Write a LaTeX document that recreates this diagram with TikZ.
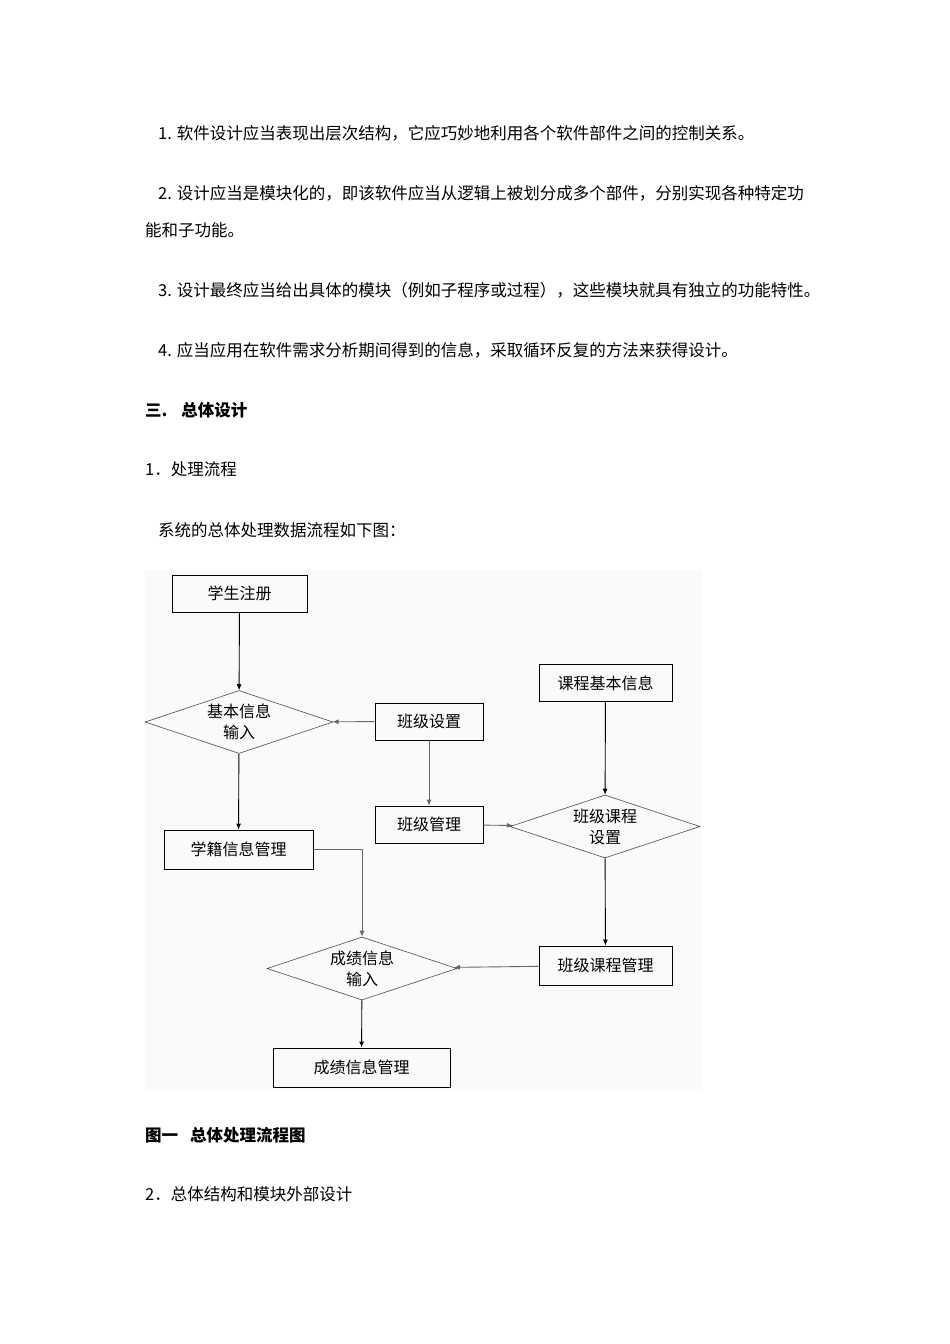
\documentclass[tikz,border=0pt]{standalone}
\usepackage{fontspec}
\setmainfont{Noto Sans CJK SC}
\usetikzlibrary{shapes.geometric,arrows.meta}
\begin{document}
\begin{tikzpicture}[x=1pt,y=-1pt,
  txt/.style={anchor=west,inner sep=0,font=\fontsize{16.5}{19}\selectfont},
  bold/.style={txt,font=\fontsize{16.5}{19}\selectfont\bfseries},
  box/.style={draw,line width=0.9pt,minimum height=37pt,inner sep=0,font=\fontsize{16}{19}\selectfont},
  dia/.style={draw=black!70,line width=0.6pt,diamond,aspect=3,inner sep=0,align=center,font=\fontsize{16}{21}\selectfont},
  arr/.style={-{Latex[length=6pt,width=5pt]},line width=0.9pt},
  garr/.style={arr,draw=black!60}]
\useasboundingbox (0,0) rectangle (950,1344);
\fill[white] (0,0) rectangle (950,1344);
\fill[black!2] (145,570) rectangle (702,1090);
\node[txt] (t1) at (158,133) {1. 软件设计应当表现出层次结构，它应巧妙地利用各个软件部件之间的控制关系。};
\node[txt] (t2) at (158,193) {2. 设计应当是模块化的，即该软件应当从逻辑上被划分成多个部件，分别实现各种特定功};
\node[txt] (t2b) at (145,230) {能和子功能。};
\node[txt] (t3) at (158,290) {3. 设计最终应当给出具体的模块（例如子程序或过程），这些模块就具有独立的功能特性。};
\node[txt] (t4) at (158,350) {4. 应当应用在软件需求分析期间得到的信息，采取循环反复的方法来获得设计。};
\node[bold] (h3) at (145,410) {三.\hspace{14pt}总体设计};
\node[txt] (h31) at (145,469) {1．处理流程};
\node[txt] (p) at (158,530) {系统的总体处理数据流程如下图：};
\node[bold] (cap) at (145,1135) {图一\hspace{12pt}总体处理流程图};
\node[txt] (h32) at (145,1194) {2．总体结构和模块外部设计};

\node[box,minimum width=135pt] (reg) at (239.5,593.5) {学生注册};
\node[dia,minimum width=188pt,minimum height=63pt] (d1) at (239,722) {基本信息\\输入};
\node[box,minimum width=108pt] (bjsz) at (429,721.5) {班级设置};
\node[box,minimum width=133pt] (kc) at (605.5,683) {课程基本信息};
\node[box,minimum width=108pt] (bjgl) at (429,824.5) {班级管理};
\node[dia,minimum width=190pt,minimum height=63pt] (d2) at (605,826.5) {班级课程\\设置};
\node[box,minimum width=149pt,minimum height=39pt] (xj) at (238.5,849.5) {学籍信息管理};
\node[dia,minimum width=190pt,minimum height=63pt] (d3) at (362,968.5) {成绩信息\\输入};
\node[box,minimum width=133pt,minimum height=39pt] (kcgl) at (605.5,965.5) {班级课程管理};
\node[box,minimum width=177pt,minimum height=39pt] (cj) at (361.5,1067.5) {成绩信息管理};

\draw[arr] (reg) -- (d1);
\draw[arr] (d1) -- (xj);
\draw[garr] (bjsz) -- (d1);
\draw[garr] (bjsz) -- (bjgl);
\draw[arr] (kc) -- (d2);
\draw[garr] (bjgl) -- (d2);
\draw[arr] (d2) -- (kcgl);
\draw[garr] (kcgl) -- (d3);
\draw[arr,draw=black!60] (xj.east) -| (d3.north);
\draw[arr] (d3) -- (cj);
\end{tikzpicture}
\end{document}
